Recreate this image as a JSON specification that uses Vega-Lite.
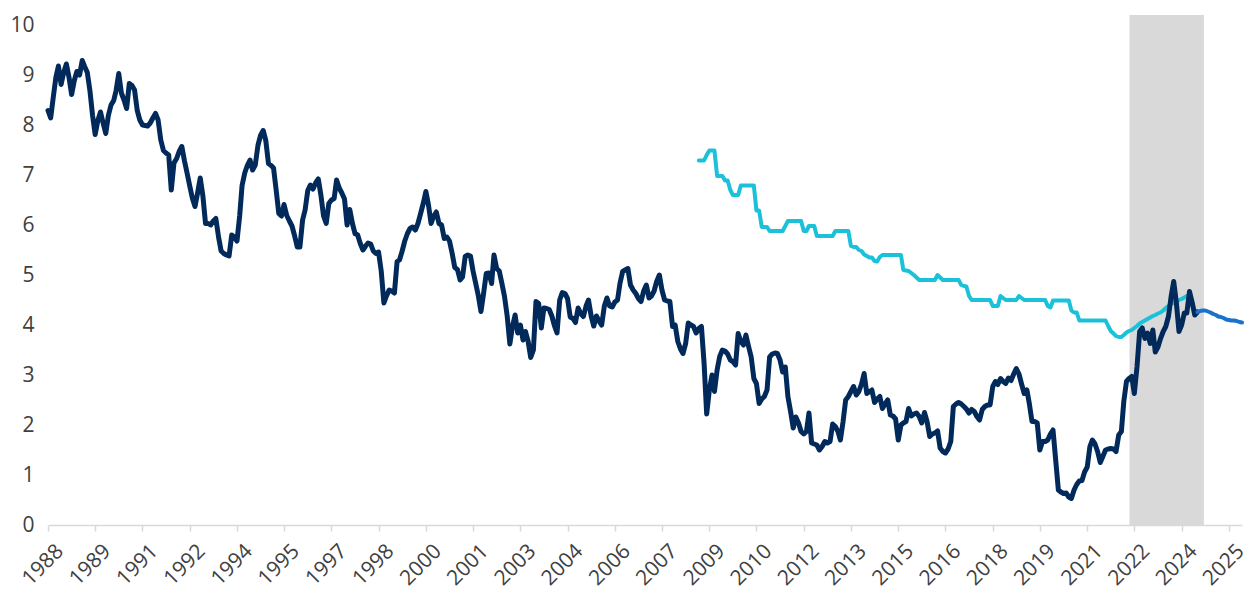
{
  "$schema": "https://vega.github.io/schema/vega-lite/v6.json",
  "width": 1194,
  "height": 500,
  "autosize": "none",
  "padding": {"left": 48, "top": 25, "right": 8, "bottom": 71},
  "background": "white",
  "config": {"view": {"stroke": null}, "font": "Open Sans"},
  "datasets": {
    "band": [{"start": "2022-05-06", "end": "2024-09-15"}],
    "navy": [
      {"d":"1988-01","v":8.29},{"d":"1988-02","v":8.14},{"d":"1988-03","v":8.54},{"d":"1988-04","v":8.95},{"d":"1988-05","v":9.18},{"d":"1988-06","v":8.81},{"d":"1988-07","v":9.05},{"d":"1988-08","v":9.22},{"d":"1988-09","v":8.95},{"d":"1988-10","v":8.61},{"d":"1988-11","v":8.89},{"d":"1988-12","v":9.07},
      {"d":"1989-01","v":9.0},{"d":"1989-02","v":9.29},{"d":"1989-03","v":9.17},{"d":"1989-04","v":9.05},{"d":"1989-05","v":8.69},{"d":"1989-06","v":8.19},{"d":"1989-07","v":7.81},{"d":"1989-08","v":8.09},{"d":"1989-09","v":8.26},{"d":"1989-10","v":8.04},{"d":"1989-11","v":7.83},{"d":"1989-12","v":8.19},
      {"d":"1990-01","v":8.40},{"d":"1990-02","v":8.49},{"d":"1990-03","v":8.69},{"d":"1990-04","v":9.03},{"d":"1990-05","v":8.64},{"d":"1990-06","v":8.50},{"d":"1990-07","v":8.33},{"d":"1990-08","v":8.83},{"d":"1990-09","v":8.79},{"d":"1990-10","v":8.70},{"d":"1990-11","v":8.29},{"d":"1990-12","v":8.10},
      {"d":"1991-01","v":8.0},{"d":"1991-02","v":7.99},{"d":"1991-03","v":7.98},{"d":"1991-04","v":8.04},{"d":"1991-05","v":8.14},{"d":"1991-06","v":8.23},{"d":"1991-07","v":8.10},{"d":"1991-08","v":7.70},{"d":"1991-09","v":7.49},{"d":"1991-10","v":7.44},{"d":"1991-11","v":7.40},{"d":"1991-12","v":6.70},
      {"d":"1992-01","v":7.24},{"d":"1992-02","v":7.33},{"d":"1992-03","v":7.47},{"d":"1992-04","v":7.57},{"d":"1992-05","v":7.29},{"d":"1992-06","v":7.04},{"d":"1992-07","v":6.79},{"d":"1992-08","v":6.54},{"d":"1992-09","v":6.37},{"d":"1992-10","v":6.64},{"d":"1992-11","v":6.94},{"d":"1992-12","v":6.59},
      {"d":"1993-01","v":6.03},{"d":"1993-02","v":6.03},{"d":"1993-03","v":6.0},{"d":"1993-04","v":6.08},{"d":"1993-05","v":6.13},{"d":"1993-06","v":5.76},{"d":"1993-07","v":5.48},{"d":"1993-08","v":5.43},{"d":"1993-09","v":5.40},{"d":"1993-10","v":5.38},{"d":"1993-11","v":5.80},{"d":"1993-12","v":5.76},
      {"d":"1994-01","v":5.68},{"d":"1994-02","v":6.18},{"d":"1994-03","v":6.79},{"d":"1994-04","v":7.04},{"d":"1994-05","v":7.19},{"d":"1994-06","v":7.30},{"d":"1994-07","v":7.10},{"d":"1994-08","v":7.20},{"d":"1994-09","v":7.59},{"d":"1994-10","v":7.79},{"d":"1994-11","v":7.89},{"d":"1994-12","v":7.69},
      {"d":"1995-01","v":7.23},{"d":"1995-02","v":7.19},{"d":"1995-03","v":7.14},{"d":"1995-04","v":6.69},{"d":"1995-05","v":6.23},{"d":"1995-06","v":6.18},{"d":"1995-07","v":6.41},{"d":"1995-08","v":6.19},{"d":"1995-09","v":6.08},{"d":"1995-10","v":5.98},{"d":"1995-11","v":5.78},{"d":"1995-12","v":5.56},
      {"d":"1996-01","v":5.56},{"d":"1996-02","v":6.10},{"d":"1996-03","v":6.30},{"d":"1996-04","v":6.69},{"d":"1996-05","v":6.80},{"d":"1996-06","v":6.72},{"d":"1996-07","v":6.84},{"d":"1996-08","v":6.92},{"d":"1996-09","v":6.59},{"d":"1996-10","v":6.18},{"d":"1996-11","v":6.03},{"d":"1996-12","v":6.43},
      {"d":"1997-01","v":6.50},{"d":"1997-02","v":6.53},{"d":"1997-03","v":6.90},{"d":"1997-04","v":6.74},{"d":"1997-05","v":6.64},{"d":"1997-06","v":6.52},{"d":"1997-07","v":6.0},{"d":"1997-08","v":6.31},{"d":"1997-09","v":6.03},{"d":"1997-10","v":5.83},{"d":"1997-11","v":5.80},{"d":"1997-12","v":5.63},
      {"d":"1998-01","v":5.50},{"d":"1998-02","v":5.58},{"d":"1998-03","v":5.64},{"d":"1998-04","v":5.62},{"d":"1998-05","v":5.48},{"d":"1998-06","v":5.43},{"d":"1998-07","v":5.46},{"d":"1998-08","v":5.08},{"d":"1998-09","v":4.44},{"d":"1998-10","v":4.58},{"d":"1998-11","v":4.70},{"d":"1998-12","v":4.68},
      {"d":"1999-01","v":4.64},{"d":"1999-02","v":5.27},{"d":"1999-03","v":5.30},{"d":"1999-04","v":5.48},{"d":"1999-05","v":5.68},{"d":"1999-06","v":5.83},{"d":"1999-07","v":5.93},{"d":"1999-08","v":5.96},{"d":"1999-09","v":5.90},{"d":"1999-10","v":6.03},{"d":"1999-11","v":6.23},{"d":"1999-12","v":6.43},
      {"d":"2000-01","v":6.67},{"d":"2000-02","v":6.39},{"d":"2000-03","v":6.03},{"d":"2000-04","v":6.18},{"d":"2000-05","v":6.26},{"d":"2000-06","v":6.03},{"d":"2000-07","v":6.0},{"d":"2000-08","v":5.73},{"d":"2000-09","v":5.76},{"d":"2000-10","v":5.68},{"d":"2000-11","v":5.43},{"d":"2000-12","v":5.15},
      {"d":"2001-01","v":5.11},{"d":"2001-02","v":4.90},{"d":"2001-03","v":4.96},{"d":"2001-04","v":5.37},{"d":"2001-05","v":5.40},{"d":"2001-06","v":5.38},{"d":"2001-07","v":5.08},{"d":"2001-08","v":4.83},{"d":"2001-09","v":4.58},{"d":"2001-10","v":4.27},{"d":"2001-11","v":4.64},{"d":"2001-12","v":5.03},
      {"d":"2002-01","v":5.04},{"d":"2002-02","v":4.83},{"d":"2002-03","v":5.40},{"d":"2002-04","v":5.13},{"d":"2002-05","v":5.08},{"d":"2002-06","v":4.83},{"d":"2002-07","v":4.57},{"d":"2002-08","v":4.18},{"d":"2002-09","v":3.62},{"d":"2002-10","v":3.97},{"d":"2002-11","v":4.20},{"d":"2002-12","v":3.84},
      {"d":"2003-01","v":4.0},{"d":"2003-02","v":3.70},{"d":"2003-03","v":3.87},{"d":"2003-04","v":3.67},{"d":"2003-05","v":3.35},{"d":"2003-06","v":3.50},{"d":"2003-07","v":4.47},{"d":"2003-08","v":4.43},{"d":"2003-09","v":3.94},{"d":"2003-10","v":4.34},{"d":"2003-11","v":4.33},{"d":"2003-12","v":4.31},
      {"d":"2004-01","v":4.18},{"d":"2004-02","v":3.98},{"d":"2004-03","v":3.84},{"d":"2004-04","v":4.50},{"d":"2004-05","v":4.65},{"d":"2004-06","v":4.63},{"d":"2004-07","v":4.53},{"d":"2004-08","v":4.16},{"d":"2004-09","v":4.13},{"d":"2004-10","v":4.05},{"d":"2004-11","v":4.34},{"d":"2004-12","v":4.23},
      {"d":"2005-01","v":4.17},{"d":"2005-02","v":4.38},{"d":"2005-03","v":4.50},{"d":"2005-04","v":4.18},{"d":"2005-05","v":3.98},{"d":"2005-06","v":4.18},{"d":"2005-07","v":4.08},{"d":"2005-08","v":4.0},{"d":"2005-09","v":4.38},{"d":"2005-10","v":4.54},{"d":"2005-11","v":4.38},{"d":"2005-12","v":4.36},
      {"d":"2006-01","v":4.46},{"d":"2006-02","v":4.50},{"d":"2006-03","v":4.83},{"d":"2006-04","v":5.07},{"d":"2006-05","v":5.10},{"d":"2006-06","v":5.13},{"d":"2006-07","v":4.80},{"d":"2006-08","v":4.70},{"d":"2006-09","v":4.63},{"d":"2006-10","v":4.53},{"d":"2006-11","v":4.47},{"d":"2006-12","v":4.68},
      {"d":"2007-01","v":4.80},{"d":"2007-02","v":4.54},{"d":"2007-03","v":4.58},{"d":"2007-04","v":4.68},{"d":"2007-05","v":4.87},{"d":"2007-06","v":5.0},{"d":"2007-07","v":4.70},{"d":"2007-08","v":4.50},{"d":"2007-09","v":4.48},{"d":"2007-10","v":4.47},{"d":"2007-11","v":3.97},{"d":"2007-12","v":4.0},
      {"d":"2008-01","v":3.67},{"d":"2008-02","v":3.52},{"d":"2008-03","v":3.43},{"d":"2008-04","v":3.63},{"d":"2008-05","v":4.04},{"d":"2008-06","v":4.0},{"d":"2008-07","v":3.97},{"d":"2008-08","v":3.84},{"d":"2008-09","v":3.93},{"d":"2008-10","v":3.97},{"d":"2008-11","v":3.23},{"d":"2008-12","v":2.22},
      {"d":"2009-01","v":2.70},{"d":"2009-02","v":3.0},{"d":"2009-03","v":2.67},{"d":"2009-04","v":3.10},{"d":"2009-05","v":3.37},{"d":"2009-06","v":3.50},{"d":"2009-07","v":3.48},{"d":"2009-08","v":3.42},{"d":"2009-09","v":3.30},{"d":"2009-10","v":3.27},{"d":"2009-11","v":3.20},{"d":"2009-12","v":3.83},
      {"d":"2010-01","v":3.67},{"d":"2010-02","v":3.60},{"d":"2010-03","v":3.80},{"d":"2010-04","v":3.57},{"d":"2010-05","v":3.36},{"d":"2010-06","v":2.93},{"d":"2010-07","v":2.83},{"d":"2010-08","v":2.43},{"d":"2010-09","v":2.52},{"d":"2010-10","v":2.57},{"d":"2010-11","v":2.70},{"d":"2010-12","v":3.36},
      {"d":"2011-01","v":3.42},{"d":"2011-02","v":3.44},{"d":"2011-03","v":3.43},{"d":"2011-04","v":3.30},{"d":"2011-05","v":3.06},{"d":"2011-06","v":3.16},{"d":"2011-07","v":2.57},{"d":"2011-08","v":2.27},{"d":"2011-09","v":1.94},{"d":"2011-10","v":2.16},{"d":"2011-11","v":2.04},{"d":"2011-12","v":1.87},
      {"d":"2012-01","v":1.82},{"d":"2012-02","v":1.87},{"d":"2012-03","v":2.24},{"d":"2012-04","v":1.64},{"d":"2012-05","v":1.62},{"d":"2012-06","v":1.60},{"d":"2012-07","v":1.50},{"d":"2012-08","v":1.57},{"d":"2012-09","v":1.67},{"d":"2012-10","v":1.64},{"d":"2012-11","v":1.67},{"d":"2012-12","v":2.02},
      {"d":"2013-01","v":1.97},{"d":"2013-02","v":1.87},{"d":"2013-03","v":1.70},{"d":"2013-04","v":2.07},{"d":"2013-05","v":2.50},{"d":"2013-06","v":2.57},{"d":"2013-07","v":2.67},{"d":"2013-08","v":2.77},{"d":"2013-09","v":2.60},{"d":"2013-10","v":2.67},{"d":"2013-11","v":2.82},{"d":"2013-12","v":3.03},
      {"d":"2014-01","v":2.63},{"d":"2014-02","v":2.67},{"d":"2014-03","v":2.70},{"d":"2014-04","v":2.45},{"d":"2014-05","v":2.52},{"d":"2014-06","v":2.57},{"d":"2014-07","v":2.33},{"d":"2014-08","v":2.42},{"d":"2014-09","v":2.50},{"d":"2014-10","v":2.20},{"d":"2014-11","v":2.18},{"d":"2014-12","v":2.12},
      {"d":"2015-01","v":1.70},{"d":"2015-02","v":2.0},{"d":"2015-03","v":2.04},{"d":"2015-04","v":2.07},{"d":"2015-05","v":2.33},{"d":"2015-06","v":2.18},{"d":"2015-07","v":2.22},{"d":"2015-08","v":2.24},{"d":"2015-09","v":2.17},{"d":"2015-10","v":2.04},{"d":"2015-11","v":2.25},{"d":"2015-12","v":2.07},
      {"d":"2016-01","v":1.77},{"d":"2016-02","v":1.82},{"d":"2016-03","v":1.84},{"d":"2016-04","v":1.88},{"d":"2016-05","v":1.54},{"d":"2016-06","v":1.47},{"d":"2016-07","v":1.44},{"d":"2016-08","v":1.52},{"d":"2016-09","v":1.67},{"d":"2016-10","v":2.37},{"d":"2016-11","v":2.42},{"d":"2016-12","v":2.45},
      {"d":"2017-01","v":2.42},{"d":"2017-02","v":2.37},{"d":"2017-03","v":2.32},{"d":"2017-04","v":2.24},{"d":"2017-05","v":2.31},{"d":"2017-06","v":2.27},{"d":"2017-07","v":2.17},{"d":"2017-08","v":2.10},{"d":"2017-09","v":2.31},{"d":"2017-10","v":2.37},{"d":"2017-11","v":2.40},{"d":"2017-12","v":2.40},
      {"d":"2018-01","v":2.77},{"d":"2018-02","v":2.87},{"d":"2018-03","v":2.81},{"d":"2018-04","v":2.93},{"d":"2018-05","v":2.87},{"d":"2018-06","v":2.83},{"d":"2018-07","v":2.94},{"d":"2018-08","v":2.89},{"d":"2018-09","v":3.02},{"d":"2018-10","v":3.13},{"d":"2018-11","v":3.02},{"d":"2018-12","v":2.82},
      {"d":"2019-01","v":2.63},{"d":"2019-02","v":2.70},{"d":"2019-03","v":2.43},{"d":"2019-04","v":2.07},{"d":"2019-05","v":2.07},{"d":"2019-06","v":2.04},{"d":"2019-07","v":1.50},{"d":"2019-08","v":1.67},{"d":"2019-09","v":1.67},{"d":"2019-10","v":1.70},{"d":"2019-11","v":1.82},{"d":"2019-12","v":1.90},
      {"d":"2020-01","v":1.30},{"d":"2020-02","v":0.70},{"d":"2020-03","v":0.66},{"d":"2020-04","v":0.63},{"d":"2020-05","v":0.64},{"d":"2020-06","v":0.56},{"d":"2020-07","v":0.53},{"d":"2020-08","v":0.70},{"d":"2020-09","v":0.81},{"d":"2020-10","v":0.88},{"d":"2020-11","v":0.89},{"d":"2020-12","v":1.06},
      {"d":"2021-01","v":1.16},{"d":"2021-02","v":1.57},{"d":"2021-03","v":1.70},{"d":"2021-04","v":1.62},{"d":"2021-05","v":1.47},{"d":"2021-06","v":1.25},{"d":"2021-07","v":1.37},{"d":"2021-08","v":1.50},{"d":"2021-09","v":1.52},{"d":"2021-10","v":1.53},{"d":"2021-11","v":1.52},{"d":"2021-12","v":1.47},
      {"d":"2022-01","v":1.80},{"d":"2022-02","v":1.87},{"d":"2022-03","v":2.47},{"d":"2022-04","v":2.87},{"d":"2022-05","v":2.93},{"d":"2022-06","v":2.97},{"d":"2022-07","v":2.63},{"d":"2022-08","v":3.16},{"d":"2022-09","v":3.87},{"d":"2022-10","v":3.94},{"d":"2022-11","v":3.73},{"d":"2022-12","v":3.84},
      {"d":"2023-01","v":3.63},{"d":"2023-02","v":3.90},{"d":"2023-03","v":3.46},{"d":"2023-04","v":3.56},{"d":"2023-05","v":3.73},{"d":"2023-06","v":3.87},{"d":"2023-07","v":3.97},{"d":"2023-08","v":4.17},{"d":"2023-09","v":4.57},{"d":"2023-10","v":4.87},{"d":"2023-11","v":4.44},{"d":"2023-12","v":3.87},
      {"d":"2024-01","v":4.0},{"d":"2024-02","v":4.24},{"d":"2024-03","v":4.24},{"d":"2024-04","v":4.67},{"d":"2024-05","v":4.46},{"d":"2024-06","v":4.20},{"d":"2024-07","v":4.26}
    ],
    "cyan": [
      {"d":"2008-09","v":7.29},{"d":"2008-10","v":7.29},{"d":"2008-11","v":7.29},{"d":"2008-12","v":7.40},
      {"d":"2009-01","v":7.49},{"d":"2009-02","v":7.49},{"d":"2009-03","v":7.49},{"d":"2009-04","v":6.98},{"d":"2009-05","v":6.98},{"d":"2009-06","v":6.98},{"d":"2009-07","v":6.89},{"d":"2009-08","v":6.89},{"d":"2009-09","v":6.70},{"d":"2009-10","v":6.60},{"d":"2009-11","v":6.60},{"d":"2009-12","v":6.60},
      {"d":"2010-01","v":6.79},{"d":"2010-02","v":6.79},{"d":"2010-03","v":6.79},{"d":"2010-04","v":6.79},{"d":"2010-05","v":6.79},{"d":"2010-06","v":6.79},{"d":"2010-07","v":6.29},{"d":"2010-08","v":6.29},{"d":"2010-09","v":5.96},{"d":"2010-10","v":5.96},{"d":"2010-11","v":5.96},{"d":"2010-12","v":5.88},
      {"d":"2011-01","v":5.88},{"d":"2011-02","v":5.88},{"d":"2011-03","v":5.88},{"d":"2011-04","v":5.88},{"d":"2011-05","v":5.88},{"d":"2011-06","v":5.98},{"d":"2011-07","v":6.08},{"d":"2011-08","v":6.08},{"d":"2011-09","v":6.08},{"d":"2011-10","v":6.08},{"d":"2011-11","v":6.08},{"d":"2011-12","v":6.08},
      {"d":"2012-01","v":5.88},{"d":"2012-02","v":5.88},{"d":"2012-03","v":5.98},{"d":"2012-04","v":5.98},{"d":"2012-05","v":5.98},{"d":"2012-06","v":5.78},{"d":"2012-07","v":5.78},{"d":"2012-08","v":5.78},{"d":"2012-09","v":5.78},{"d":"2012-10","v":5.78},{"d":"2012-11","v":5.78},{"d":"2012-12","v":5.78},
      {"d":"2013-01","v":5.88},{"d":"2013-02","v":5.88},{"d":"2013-03","v":5.88},{"d":"2013-04","v":5.88},{"d":"2013-05","v":5.88},{"d":"2013-06","v":5.88},{"d":"2013-07","v":5.58},{"d":"2013-08","v":5.56},{"d":"2013-09","v":5.56},{"d":"2013-10","v":5.50},{"d":"2013-11","v":5.48},{"d":"2013-12","v":5.41},
      {"d":"2014-01","v":5.38},{"d":"2014-02","v":5.35},{"d":"2014-03","v":5.35},{"d":"2014-04","v":5.28},{"d":"2014-05","v":5.27},{"d":"2014-06","v":5.36},{"d":"2014-07","v":5.40},{"d":"2014-08","v":5.40},{"d":"2014-09","v":5.40},{"d":"2014-10","v":5.40},{"d":"2014-11","v":5.40},{"d":"2014-12","v":5.40},
      {"d":"2015-01","v":5.40},{"d":"2015-02","v":5.40},{"d":"2015-03","v":5.10},{"d":"2015-04","v":5.09},{"d":"2015-05","v":5.08},{"d":"2015-06","v":5.04},{"d":"2015-07","v":5.0},{"d":"2015-08","v":4.95},{"d":"2015-09","v":4.90},{"d":"2015-10","v":4.90},{"d":"2015-11","v":4.90},{"d":"2015-12","v":4.90},
      {"d":"2016-01","v":4.90},{"d":"2016-02","v":4.90},{"d":"2016-03","v":4.90},{"d":"2016-04","v":5.0},{"d":"2016-05","v":4.95},{"d":"2016-06","v":4.90},{"d":"2016-07","v":4.90},{"d":"2016-08","v":4.90},{"d":"2016-09","v":4.90},{"d":"2016-10","v":4.90},{"d":"2016-11","v":4.90},{"d":"2016-12","v":4.90},
      {"d":"2017-01","v":4.80},{"d":"2017-02","v":4.78},{"d":"2017-03","v":4.77},{"d":"2017-04","v":4.58},{"d":"2017-05","v":4.50},{"d":"2017-06","v":4.50},{"d":"2017-07","v":4.50},{"d":"2017-08","v":4.50},{"d":"2017-09","v":4.50},{"d":"2017-10","v":4.50},{"d":"2017-11","v":4.50},{"d":"2017-12","v":4.50},
      {"d":"2018-01","v":4.38},{"d":"2018-02","v":4.38},{"d":"2018-03","v":4.38},{"d":"2018-04","v":4.58},{"d":"2018-05","v":4.54},{"d":"2018-06","v":4.50},{"d":"2018-07","v":4.50},{"d":"2018-08","v":4.50},{"d":"2018-09","v":4.50},{"d":"2018-10","v":4.50},{"d":"2018-11","v":4.58},{"d":"2018-12","v":4.54},
      {"d":"2019-01","v":4.50},{"d":"2019-02","v":4.50},{"d":"2019-03","v":4.50},{"d":"2019-04","v":4.50},{"d":"2019-05","v":4.50},{"d":"2019-06","v":4.50},{"d":"2019-07","v":4.50},{"d":"2019-08","v":4.50},{"d":"2019-09","v":4.50},{"d":"2019-10","v":4.38},{"d":"2019-11","v":4.35},{"d":"2019-12","v":4.49},
      {"d":"2020-01","v":4.49},{"d":"2020-02","v":4.49},{"d":"2020-03","v":4.49},{"d":"2020-04","v":4.49},{"d":"2020-05","v":4.49},{"d":"2020-06","v":4.49},{"d":"2020-07","v":4.29},{"d":"2020-08","v":4.25},{"d":"2020-09","v":4.25},{"d":"2020-10","v":4.09},{"d":"2020-11","v":4.09},{"d":"2020-12","v":4.09},
      {"d":"2021-01","v":4.09},{"d":"2021-02","v":4.09},{"d":"2021-03","v":4.09},{"d":"2021-04","v":4.09},{"d":"2021-05","v":4.09},{"d":"2021-06","v":4.09},{"d":"2021-07","v":4.09},{"d":"2021-08","v":4.09},{"d":"2021-09","v":3.98},{"d":"2021-10","v":3.88},{"d":"2021-11","v":3.83},{"d":"2021-12","v":3.78},
      {"d":"2022-01","v":3.76},{"d":"2022-02","v":3.76},{"d":"2022-03","v":3.80},{"d":"2022-04","v":3.85},{"d":"2022-05","v":3.88},{"d":"2022-06","v":3.90},{"d":"2022-07","v":3.94},{"d":"2022-08","v":3.98},{"d":"2022-09","v":4.03},{"d":"2022-10","v":4.06},{"d":"2022-11","v":4.09},{"d":"2022-12","v":4.12},
      {"d":"2023-01","v":4.15},{"d":"2023-02","v":4.18},{"d":"2023-03","v":4.20},{"d":"2023-04","v":4.23},{"d":"2023-05","v":4.25},{"d":"2023-06","v":4.29},{"d":"2023-07","v":4.34},{"d":"2023-08","v":4.38},{"d":"2023-09","v":4.42},{"d":"2023-10","v":4.45},{"d":"2023-11","v":4.47},{"d":"2023-12","v":4.50},
      {"d":"2024-01","v":4.52},{"d":"2024-02","v":4.55},{"d":"2024-03","v":4.58},{"d":"2024-04","v":4.59}
    ],
    "blue": [
      {"d":"2024-07","v":4.26},{"d":"2024-08","v":4.28},{"d":"2024-09","v":4.29},{"d":"2024-10","v":4.29},{"d":"2024-11","v":4.27},{"d":"2024-12","v":4.25},
      {"d":"2025-01","v":4.22},{"d":"2025-02","v":4.20},{"d":"2025-03","v":4.17},{"d":"2025-04","v":4.16},{"d":"2025-05","v":4.14},{"d":"2025-06","v":4.11},{"d":"2025-07","v":4.10},{"d":"2025-08","v":4.09},{"d":"2025-09","v":4.09},{"d":"2025-10","v":4.08},{"d":"2025-11","v":4.06},{"d":"2025-12","v":4.05}
    ]
  },
  "layer": [
    {
      "data": {"name": "band", "format": {"parse": {"start": "date:'%Y-%m-%d'", "end": "date:'%Y-%m-%d'"}}},
      "mark": {"type": "rect", "color": "#D9D9D9"},
      "encoding": {
        "x": {"field": "start", "type": "temporal",
              "scale": {"domain": [{"year": 1988, "month": 1, "date": 1}, {"year": 2025, "month": 12, "date": 1}]},
              "axis": {
                "values": [
                  {"year": 1988, "month": 1}, {"year": 1989, "month": 7}, {"year": 1991, "month": 1}, {"year": 1992, "month": 7},
                  {"year": 1994, "month": 1}, {"year": 1995, "month": 7}, {"year": 1997, "month": 1}, {"year": 1998, "month": 7},
                  {"year": 2000, "month": 1}, {"year": 2001, "month": 7}, {"year": 2003, "month": 1}, {"year": 2004, "month": 7},
                  {"year": 2006, "month": 1}, {"year": 2007, "month": 7}, {"year": 2009, "month": 1}, {"year": 2010, "month": 7},
                  {"year": 2012, "month": 1}, {"year": 2013, "month": 7}, {"year": 2015, "month": 1}, {"year": 2016, "month": 7},
                  {"year": 2018, "month": 1}, {"year": 2019, "month": 7}, {"year": 2021, "month": 1}, {"year": 2022, "month": 7},
                  {"year": 2024, "month": 1}, {"year": 2025, "month": 7}
                ],
                "format": "%Y",
                "title": null,
                "grid": false,
                "labelAngle": -45,
                "labelAlign": "right",
                "labelBaseline": "top",
                "labelFont": "Open Sans",
                "labelFontSize": 21,
                "labelColor": "#404040",
                "labelPadding": 9,
                "labelOffset": 4,
                "labelOverlap": false,
                "labelBound": false,
                "labelFlush": false,
                "domainColor": "#D9D9D9",
                "domainWidth": 1.5,
                "tickColor": "#D9D9D9",
                "tickWidth": 1.5,
                "tickSize": 6
              }},
        "x2": {"field": "end"},
        "y": {"datum": 10.2, "type": "quantitative",
              "scale": {"domain": [0, 10], "nice": false},
              "axis": {"values": [0,1,2,3,4,5,6,7,8,9,10], "title": null, "grid": false, "domain": false, "ticks": false,
                       "labelFont": "Open Sans", "labelFontSize": 21, "labelColor": "#404040", "labelPadding": 14}},
        "y2": {"datum": 0}
      }
    },
    {
      "data": {"name": "cyan", "format": {"parse": {"d": "date:'%Y-%m'"}}},
      "mark": {"type": "line", "color": "#1BC0D9", "strokeWidth": 4, "strokeJoin": "round", "strokeCap": "round"},
      "encoding": {
        "x": {"field": "d", "type": "temporal"},
        "y": {"field": "v", "type": "quantitative"}
      }
    },
    {
      "data": {"name": "navy", "format": {"parse": {"d": "date:'%Y-%m'"}}},
      "mark": {"type": "line", "color": "#012A5B", "strokeWidth": 5, "strokeJoin": "round", "strokeCap": "round"},
      "encoding": {
        "x": {"field": "d", "type": "temporal"},
        "y": {"field": "v", "type": "quantitative"}
      }
    },
    {
      "data": {"name": "blue", "format": {"parse": {"d": "date:'%Y-%m'"}}},
      "mark": {"type": "line", "color": "#1A72CC", "strokeWidth": 4, "strokeJoin": "round", "strokeCap": "round"},
      "encoding": {
        "x": {"field": "d", "type": "temporal"},
        "y": {"field": "v", "type": "quantitative"}
      }
    }
  ]
}
